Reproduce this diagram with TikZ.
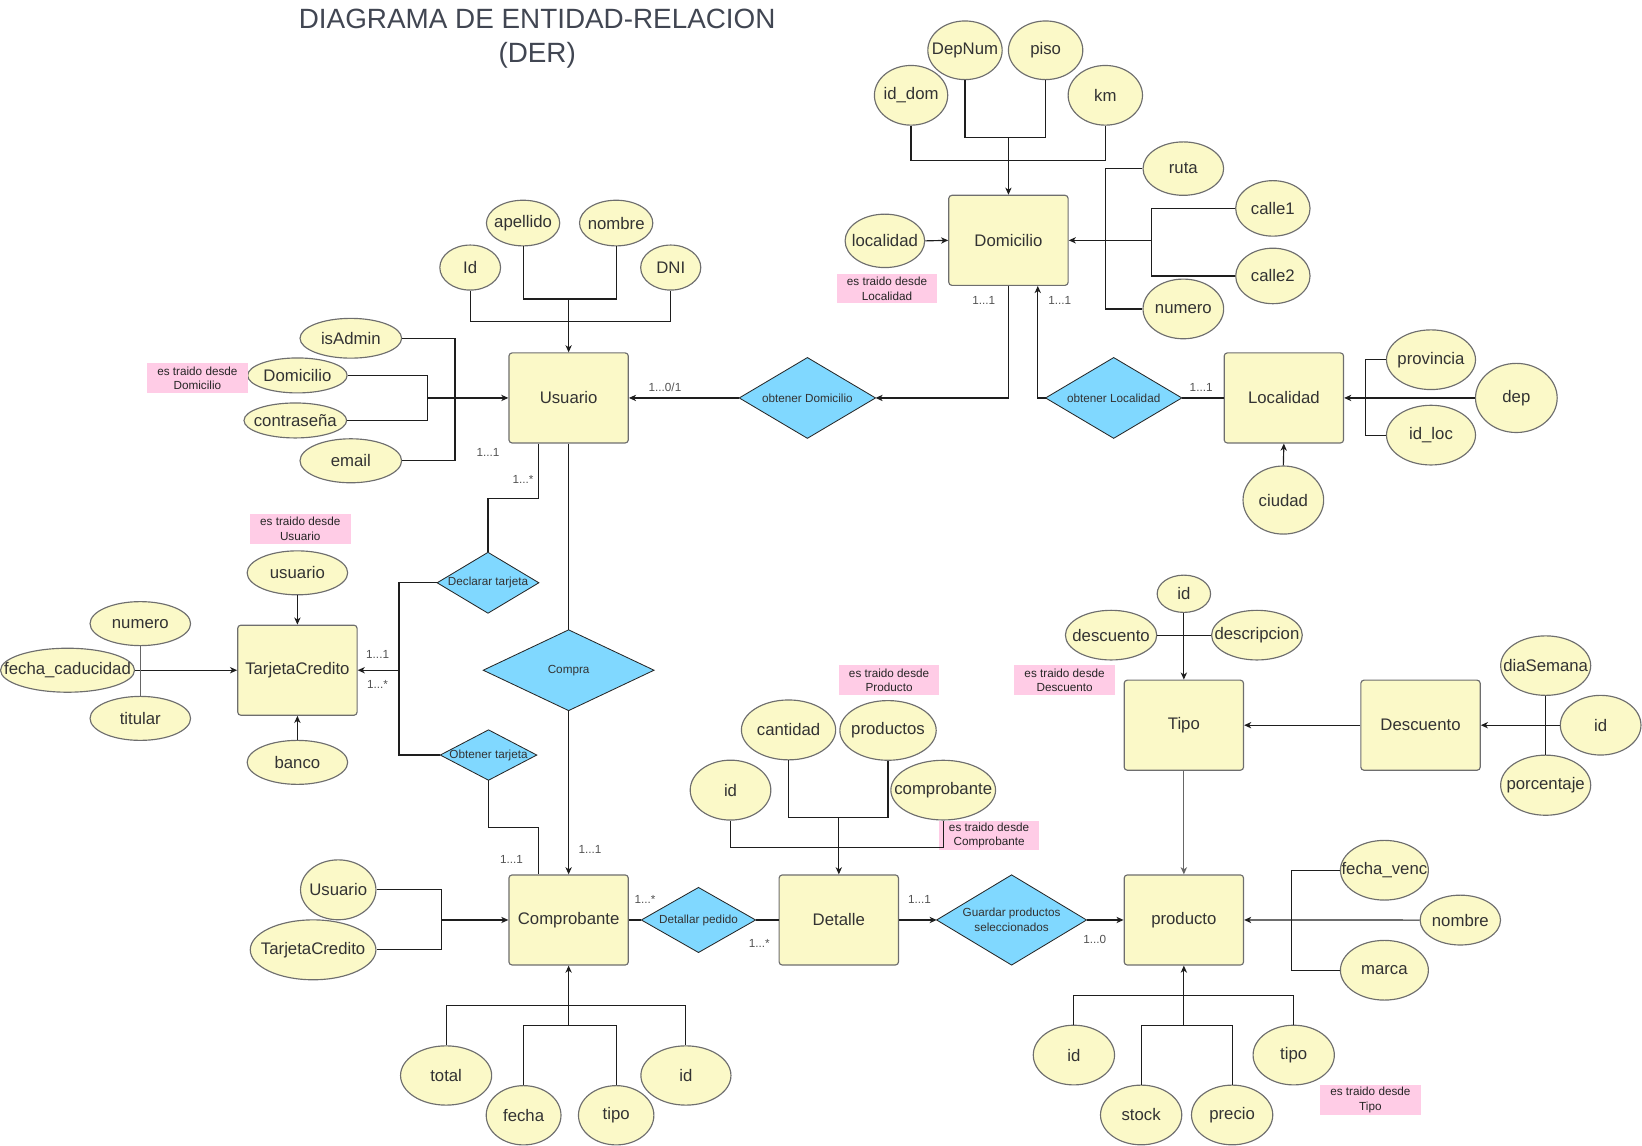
\documentclass[tikz,border=0pt]{standalone}
\usepackage{fontspec}
\setmainfont{Liberation Sans}
\usetikzlibrary{shapes.geometric,arrows.meta,backgrounds}
\definecolor{yel}{HTML}{FBF9C8}
\definecolor{blu}{HTML}{80D8FF}
\definecolor{pnk}{HTML}{FFCCE6}
\definecolor{bord}{HTML}{6E6E6E}
\definecolor{txt}{HTML}{333333}
\definecolor{ttl}{HTML}{414652}
\definecolor{lin}{HTML}{1E1E1E}
\newcommand{\zb}[1]{\makebox[0pt]{#1}}
\begin{document}
\begin{tikzpicture}[x=0.5pt,y=-0.5pt, line width=0.55pt,
  ent/.style={draw=bord, fill=yel, rounded corners=1.5pt, minimum width=57pt, minimum height=43pt, inner sep=0pt, font=\fontsize{8}{9.6}\selectfont, text=txt},
  attr/.style 2 args={ellipse, draw=bord, fill=yel, inner sep=0pt, minimum width=#1pt, minimum height=#2pt, font=\fontsize{8}{9.6}\selectfont, text=txt},
  rel/.style 2 args={inner sep=0pt, minimum width=#1pt, minimum height=#2pt, font=\fontsize{5.6}{6.9}\selectfont, text=txt, align=center},
  reldraw/.style={fill=blu, draw=black!85, line join=miter},
  note/.style={fill=pnk, inner sep=0pt, minimum width=48pt, minimum height=14.25pt, font=\fontsize{5.6}{7}\selectfont, align=center, text=black!85},
  card/.style={inner sep=0pt, font=\fontsize{5.6}{6.8}\selectfont, text=black!68},
  conn/.style={draw=lin},
  gconn/.style={draw=black!60},
  arr/.style={draw=lin, -{Stealth[length=3.4pt,width=3pt,inset=1pt]}},
  garr/.style={draw=black!60, -{Stealth[length=3.4pt,width=3pt,inset=1pt]}}
]
\useasboundingbox (0,0) rectangle (1568,1094);

% title
\node[font=\fontsize{13.3}{16}\selectfont, text=ttl, align=center, inner sep=0pt] (title) at (513,37) {DIAGRAMA DE ENTIDAD-RELACION\\(DER)};

% entities
\node[ent] (usuario) at (543,380) {Usuario};
\node[ent] (domicilio) at (963,229.5) {Domicilio};
\node[ent] (localidad) at (1226,380) {Localidad};
\node[ent] (tarjeta) at (284,640) {TarjetaCredito};
\node[ent] (comprobante) at (543,878.5) {Comprobante};
\node[ent] (detalle) at (801,878.5) {Detalle};
\node[ent] (tipo) at (1130.5,692.5) {Tipo};
\node[ent] (descuento) at (1356.5,692.5) {Descuento};
\node[ent] (producto) at (1130.5,878.5) {producto};

% relationships
\node[rel={64.5}{38}] (oDom) at (771,380) {obtener Domicilio};
\node[rel={64.5}{38}] (oLoc) at (1063.5,380) {obtener Localidad};
\node[rel={48}{28.5}] (decl) at (466,556.5) {Declarar tarjeta};
\node[rel={81}{38}] (compra) at (543,640) {Compra};
\node[rel={45.5}{23.5}] (obt) at (466.5,721) {Obtener tarjeta};
\node[rel={54}{30.5}] (detp) at (667,878.5) {Detallar pedido};
\node[rel={71}{42.5}] (guard) at (966,878.5) {Guardar productos\\seleccionados};

\begin{scope}[on background layer]
\foreach \r in {oDom,oLoc,decl,compra,obt,detp,guard}
  \draw[reldraw] (\r.north) -- (\r.east) -- (\r.south) -- (\r.west) -- cycle;
\end{scope}

% Usuario attributes
\node[attr={29}{21.5}] (uId) at (449,255.5) {\zb{Id}};
\node[attr={35}{21.8}] (uApe) at (499.5,213) {\zb{apellido}};
\node[attr={35}{21.8}] (uNom) at (588.4,213) {\zb{nombre}};
\node[attr={28.7}{21.5}] (uDni) at (640.5,255.5) {\zb{DNI}};
\node[attr={48.5}{19}] (uAdm) at (335,323) {\zb{isAdmin}};
\node[attr={47.5}{16.7}] (uDom) at (284,358.5) {\zb{Domicilio}};
\node[attr={49}{16.7}] (uPass) at (282,401.5) {\zb{contraseña}};
\node[attr={48.5}{21}] (uMail) at (335,440) {\zb{email}};

% Domicilio attributes
\node[attr={35}{28.5}] (dId) at (870,91) {\zb{id\_dom}};
\node[attr={35.5}{28}] (dDep) at (921.5,48) {\zb{DepNum}};
\node[attr={35.5}{28}] (dPiso) at (998.5,48) {\zb{piso}};
\node[attr={35.5}{28.5}] (dKm) at (1055.5,91) {\zb{km}};
\node[attr={38.5}{25.5}] (dRuta) at (1130,161) {\zb{ruta}};
\node[attr={35.5}{26.5}] (dC1) at (1215.5,199) {\zb{calle1}};
\node[attr={35.5}{26.5}] (dC2) at (1215.5,263.5) {\zb{calle2}};
\node[attr={38.5}{28.5}] (dNum) at (1130,295) {\zb{numero}};
\node[attr={38}{25.5}] (dLoc) at (845,230) {\zb{localidad}};

% Localidad attributes
\node[attr={42.5}{28.5}] (lProv) at (1366.5,343.5) {\zb{provincia}};
\node[attr={39}{33}] (lDep) at (1448,380) {\zb{dep}};
\node[attr={42.5}{28.5}] (lIdl) at (1366.5,415.5) {\zb{id\_loc}};
\node[attr={38.5}{32.5}] (lCiu) at (1225.5,477.5) {\zb{ciudad}};

% TarjetaCredito attributes
\node[attr={48}{21}] (tUsu) at (284,547) {\zb{usuario}};
\node[attr={48}{21}] (tNum) at (134,595.5) {\zb{numero}};
\node[attr={64}{21}] (tFec) at (64.5,640) {\zb{fecha\_caducidad}};
\node[attr={48}{21}] (tTit) at (134,686) {\zb{titular}};
\node[attr={48}{21}] (tBan) at (284,728) {\zb{banco}};

% Comprobante attributes
\node[attr={36}{28.6}] (cUsu) at (323,849.7) {\zb{Usuario}};
\node[attr={60}{28.6}] (cTar) at (299,907) {\zb{TarjetaCredito}};
\node[attr={43.5}{28.3}] (cTot) at (426,1027) {\zb{total}};
\node[attr={35.7}{28.3}] (cFec) at (500,1065) {\zb{fecha}};
\node[attr={36}{28.3}] (cTip) at (588.4,1065) {\zb{tipo}};
\node[attr={43}{28.3}] (cId) at (655,1027) {\zb{id}};

% Detalle attributes
\node[attr={45}{28.6}] (eCan) at (753,697) {\zb{cantidad}};
\node[attr={46}{28.5}] (eProd) at (848,697.5) {\zb{productos}};
\node[attr={38.5}{28.6}] (eId) at (697.6,754.5) {\zb{id}};
\node[attr={50}{28.5}] (eComp) at (900.7,754.5) {\zb{comprobante}};

% Tipo attributes
\node[attr={25.5}{17.8}] (pTid) at (1130.5,567) {\zb{id}};
\node[attr={43.6}{23.7}] (pTdes) at (1061,606.5) {\zb{descuento}};
\node[attr={43.3}{23.7}] (pTdesc) at (1200.3,606.5) {\zb{descripcion}};

% Descuento attributes
\node[attr={43}{28.4}] (sDia) at (1476,635.6) {\zb{diaSemana}};
\node[attr={38.5}{28.5}] (sId) at (1528.5,692.5) {\zb{id}};
\node[attr={43}{28.7}] (sPor) at (1476,749.8) {\zb{porcentaje}};

% producto attributes
\node[attr={42}{28.5}] (pFv) at (1322,831) {\zb{fecha\_venc}};
\node[attr={38.4}{23.8}] (pNom) at (1394.5,878.6) {\zb{nombre}};
\node[attr={42}{28.5}] (pMar) at (1322,926.5) {\zb{marca}};
\node[attr={38.8}{28.5}] (pId) at (1025.5,1007.5) {\zb{id}};
\node[attr={38.8}{28.5}] (pSto) at (1089.7,1064.7) {\zb{stock}};
\node[attr={38.8}{28.5}] (pPre) at (1176.6,1064.7) {\zb{precio}};
\node[attr={38.8}{28.5}] (pTip) at (1235.4,1007.5) {\zb{tipo}};

% notes
\node[note] (n1) at (188.5,361.3) {es traido desde\\Domicilio};
\node[note] (n2) at (847,275.5) {es traido desde\\Localidad};
\node[note] (n3) at (286.7,505) {es traido desde\\Usuario};
\node[note] (n4) at (849,649.5) {es traido desde\\Producto};
\node[note] (n5) at (1016.6,649.5) {es traido desde\\Descuento};
\node[note] (n6) at (944.5,797.8) {es traido desde\\Comprobante};
\node[note] (n7) at (1308.6,1050.5) {es traido desde\\Tipo};

% cardinalities
\node[card] (k1) at (635,370) {1...0/1};
\node[card] (k2) at (939.5,286.5) {1...1};
\node[card] (k3) at (1012,286.5) {1...1};
\node[card] (k4) at (1147,370) {1...1};
\node[card] (k5) at (466,432) {1...1};
\node[card] (k6) at (499.4,457.7) {1...*};
\node[card] (k7) at (360.6,625) {1...1};
\node[card] (k8) at (360.6,654) {1...*};
\node[card] (k9) at (488.5,820.7) {1...1};
\node[card] (k10) at (563.4,811) {1...1};
\node[card] (k11) at (616,859) {1...*};
\node[card] (k12) at (725,900.6) {1...*};
\node[card] (k13) at (878,858.8) {1...1};
\node[card] (k14) at (1045.4,897) {1...0};

% ---------- connectors ----------
% Usuario attributes
\coordinate (uJ1) at (543,285.5);
\coordinate (uJ2) at (543,307.2);
\draw[conn] (uApe.south) -- (uApe.south |- uJ1) -- (uNom.south |- uJ1) -- (uNom.south);
\draw[conn] (uId.south) -- (uId.south |- uJ2) -- (uDni.south |- uJ2) -- (uDni.south);
\draw[arr] (uJ1) -- (usuario.north);
\coordinate (uJ3) at (434.5,380);
\coordinate (uJ4) at (408.5,380);
\draw[conn] (uAdm.east) -| (uMail.east -| uJ3) -- (uMail.east);
\draw[conn] (uDom.east) -| (uPass.east -| uJ4) -- (uPass.east);
\draw[arr] (uJ4) -- (usuario.west);

% Domicilio attributes
\coordinate (dJ1) at (963,131);
\coordinate (dJ2) at (963,153);
\draw[conn] (dDep.south) -- (dDep.south |- dJ1) -- (dPiso.south |- dJ1) -- (dPiso.south);
\draw[conn] (dId.south) -- (dId.south |- dJ2) -- (dKm.south |- dJ2) -- (dKm.south);
\draw[arr] (dJ1) -- (domicilio.north);
\coordinate (dJ3) at (1056,229.5);
\coordinate (dJ4) at (1099.5,229.5);
\draw[conn] (dRuta.west) -| (dNum.west -| dJ3) -- (dNum.west);
\draw[conn] (dC1.west) -| (dC2.west -| dJ4) -- (dC2.west);
\draw[arr] (dJ4) -- (domicilio.east);
\draw[arr] (dLoc.east) -- (domicilio.west);

% relationships Usuario / Domicilio / Localidad
\draw[arr] (oDom.west) -- (usuario.east);
\draw[arr] (domicilio.south) |- (oDom.east);
\coordinate (lJ) at (991,380);
\draw[arr] (oLoc.west) -- (lJ) -- (lJ |- domicilio.south);
\draw[conn] (localidad.west) -- (oLoc.east);

% Localidad attributes
\coordinate (lJ2) at (1303.6,380);
\draw[conn] (lProv.west) -| (lIdl.west -| lJ2) -- (lIdl.west);
\draw[arr] (lDep.west) -- (localidad.east);
\draw[arr] (lCiu.north) -- (localidad.south);

% Usuario - TarjetaCredito
\coordinate (tJ1) at (514.4,475.9);
\draw[conn] (usuario.south -| tJ1) -- (tJ1) -| (decl.north);
\coordinate (tJ2) at (381,640);
\draw[conn] (decl.west) -| (tJ2);
\draw[conn] (obt.west) -| (tJ2);
\draw[arr] (tJ2) -- (tarjeta.east);
\coordinate (tJ3) at (514.4,790);
\draw[conn] (obt.south) |- (tJ3) -- (tJ3 |- comprobante.north);

% Compra
\draw[conn] (usuario.south) -- (compra.north);
\draw[arr] (compra.south) -- (comprobante.north);

% TarjetaCredito attributes
\draw[arr] (tUsu.south) -- (tarjeta.north);
\draw[arr] (tBan.north) -- (tarjeta.south);
\draw[arr] (tFec.east) -- (tarjeta.west);
\draw[gconn] (tNum.south) -- (tTit.north);

% Comprobante attributes
\coordinate (cJ1) at (422,878.5);
\draw[conn] (cUsu.east) -| (cTar.east -| cJ1) -- (cTar.east);
\draw[arr] (cJ1) -- (comprobante.west);
\coordinate (cJ2) at (543,960);
\coordinate (cJ3) at (543,979.3);
\draw[conn] (cTot.north) -- (cTot.north |- cJ2) -- (cId.north |- cJ2) -- (cId.north);
\draw[conn] (cFec.north) -- (cFec.north |- cJ3) -- (cTip.north |- cJ3) -- (cTip.north);
\draw[arr] (cJ3) -- (comprobante.south);

% Detallar pedido
\draw[conn] (comprobante.east) -- (detp.west);
\draw[conn] (detp.east) -- (detalle.west);

% Detalle attributes
\coordinate (eJ1) at (801,781);
\coordinate (eJ2) at (801,809.5);
\draw[conn] (eCan.south) -- (eCan.south |- eJ1) -- (eProd.south |- eJ1) -- (eProd.south);
\draw[conn] (eId.south) -- (eId.south |- eJ2) -- (eComp.south |- eJ2) -- (eComp.south);
\draw[arr] (eJ1) -- (detalle.north);

% Guardar productos
\draw[arr] (detalle.east) -- (guard.west);
\draw[arr] (guard.east) -- (producto.west);

% Tipo / Descuento
\draw[arr] (pTid.south) -- (tipo.north);
\draw[conn] (pTdes.east) -- (pTdesc.west);
\draw[garr] (tipo.south) -- (producto.north);
\draw[arr] (descuento.west) -- (tipo.east);
\draw[conn] (sDia.south) -- (sPor.north);
\draw[arr] (sId.west) -- (descuento.east);

% producto attributes
\coordinate (pJ1) at (1233.6,878.5);
\draw[conn] (pFv.west) -| (pMar.west -| pJ1) -- (pMar.west);
\draw[arr] (pNom.west) -- (producto.east);
\coordinate (pJ2) at (1130.5,950.5);
\coordinate (pJ3) at (1130.5,979);
\draw[conn] (pId.north) -- (pId.north |- pJ2) -- (pTip.north |- pJ2) -- (pTip.north);
\draw[conn] (pSto.north) -- (pSto.north |- pJ3) -- (pPre.north |- pJ3) -- (pPre.north);
\draw[arr] (pJ3) -- (producto.south);
\end{tikzpicture}
\end{document}
